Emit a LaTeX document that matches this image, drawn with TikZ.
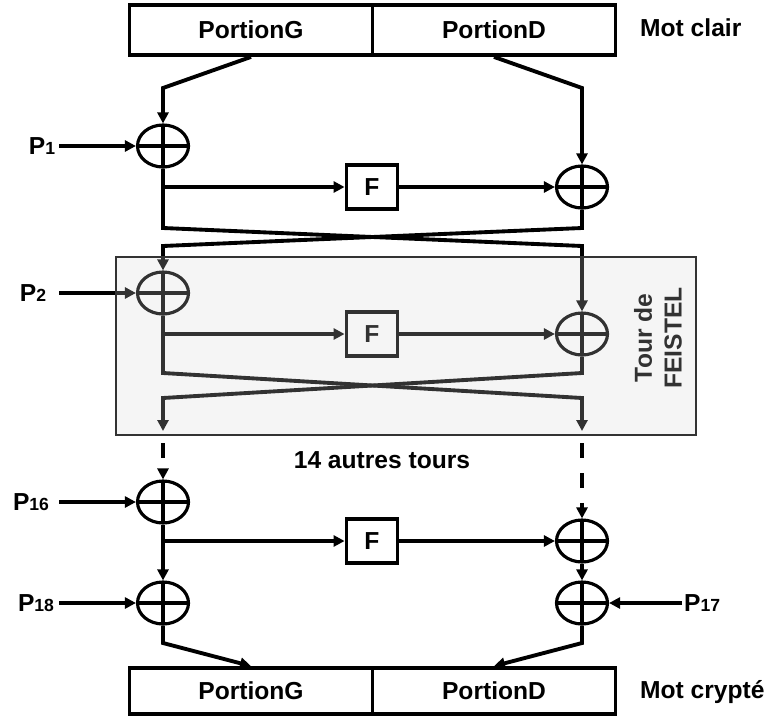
\documentclass[tikz,border=0pt]{standalone}
\usepackage{fontspec}
\setmainfont{Liberation Sans}
\usepackage{xcolor}
\usetikzlibrary{arrows.meta,shapes.geometric}

\definecolor{veil}{RGB}{212,212,212}
\newcommand{\pidx}[1]{{\fontsize{10}{12}\selectfont #1}}

\begin{document}
\begin{tikzpicture}[x=0.02cm,y=-0.02cm,
 every node/.style={font=\bfseries\fontsize{14}{17}\selectfont},
 wire/.style={line width=2.2pt},
 arr/.style={wire,-{Triangle[length=0.22cm,width=0.22cm]}},
 half/.style={draw,line width=2.2pt,minimum width=4.86cm,minimum height=1cm,inner sep=0pt},
 xor/.style={ellipse,draw,line width=1.8pt,minimum width=1.02cm,minimum height=0.84cm,inner sep=0pt,
   path picture={\draw[line width=2pt] (path picture bounding box.west) -- (path picture bounding box.east)
     (path picture bounding box.north) -- (path picture bounding box.south);}},
 fbox/.style={draw,line width=2.2pt,minimum width=1.02cm,minimum height=0.88cm,inner sep=0pt},
 tour/.style={draw=black!80,line width=0.8pt,fill=veil,fill opacity=0.24}]

 \useasboundingbox (0,0) rectangle (776,716);

 \node[half] (g0) at (251,30) {PortionG};
 \node[half] (d0) at (494,30) {PortionD};
 \node[half,minimum height=0.92cm] (g1) at (251,691) {PortionG};
 \node[half,minimum height=0.92cm] (d1) at (494,691) {PortionD};
 \node[anchor=west] (m0) at (634,28) {Mot clair};
 \node[anchor=west] (m1) at (634,692) {Mot crypté};

 \node[xor] (x1) at (163,146) {};
 \node[xor] (x2) at (582,187) {};
 \node[xor] (x3) at (163,293) {};
 \node[xor] (x4) at (582,334) {};
 \node[xor] (x5) at (163,502) {};
 \node[xor] (x6) at (582,541) {};
 \node[xor] (x7) at (582,603) {};
 \node[xor] (x8) at (163,603) {};

 \node[fbox] (f1) at (372,187) {F};
 \node[fbox] (f2) at (372,334) {F};
 \node[fbox] (f3) at (372,541) {F};

 \node (p1) at (42,146) {P\pidx{1}};
 \node (p2) at (33,293) {P\pidx{2}};
 \node (p16) at (31,502) {P\pidx{16}};
 \node (p18) at (36,603) {P\pidx{18}};
 \node[anchor=west,inner sep=1pt] (p17) at (682,603) {P\pidx{17}};

 \node (n14) at (382,460) {14 autres tours};
 \node[rotate=90,align=center] (tf) at (658,338) {Tour de\\FEISTEL};

 \coordinate (k1) at (59,146);
 \coordinate (k2) at (59,293);
 \coordinate (k16) at (59,502);
 \coordinate (k18) at (59,603);

 \coordinate (c1) at (163,88);
 \coordinate (c2) at (582,88);
 \coordinate (s1) at (163,187);
 \coordinate (s2) at (163,334);
 \coordinate (s3) at (163,541);

 \coordinate (a1) at (163,228);
 \coordinate (a2) at (582,228);
 \coordinate (b1) at (163,246);
 \coordinate (b2) at (582,246);
 \coordinate (a3) at (163,373);
 \coordinate (a4) at (582,373);
 \coordinate (b3) at (163,398);
 \coordinate (b4) at (582,398);
 \coordinate (e3) at (163,431);
 \coordinate (e4) at (582,431);
 \coordinate (h3) at (163,443);
 \coordinate (h4) at (582,443);
 \coordinate (l1) at (163,643);
 \coordinate (l2) at (582,643);

 \draw[arr] (g0.south) -- (c1) -- (x1.north);
 \draw[arr] (d0.south) -- (c2) -- (x2.north);
 \draw[arr] (k1) -- (x1.west);
 \draw[arr] (s1) -- (f1.west);
 \draw[arr] (f1.east) -- (x2.west);
 \draw[arr] (x1.south) -- (a1) -- (b2) -- (x4.north);
 \draw[arr] (x2.south) -- (a2) -- (b1) -- (x3.north);

 \draw[arr] (k2) -- (x3.west);
 \draw[arr] (s2) -- (f2.west);
 \draw[arr] (f2.east) -- (x4.west);
 \draw[arr] (x3.south) -- (a3) -- (b4) -- (e4);
 \draw[arr] (x4.south) -- (a4) -- (b3) -- (e3);

 \draw[arr,dash pattern=on 0.3cm off 0.3cm] (h3) -- (x5.north);
 \draw[arr,dash pattern=on 0.3cm off 0.3cm] (h4) -- (x6.north);

 \draw[arr] (k16) -- (x5.west);
 \draw[arr] (s3) -- (f3.west);
 \draw[arr] (f3.east) -- (x6.west);
 \draw[arr] (x5.south) -- (x8.north);
 \draw[arr] (x6.south) -- (x7.north);
 \draw[arr] (k18) -- (x8.west);
 \draw[arr] (p17.west) -- (x7.east);
 \draw[arr] (x8.south) -- (l1) -- (g1.north);
 \draw[arr] (x7.south) -- (l2) -- (d1.north);

 \draw[tour] (116,257) rectangle (696,435);

\end{tikzpicture}
\end{document}
